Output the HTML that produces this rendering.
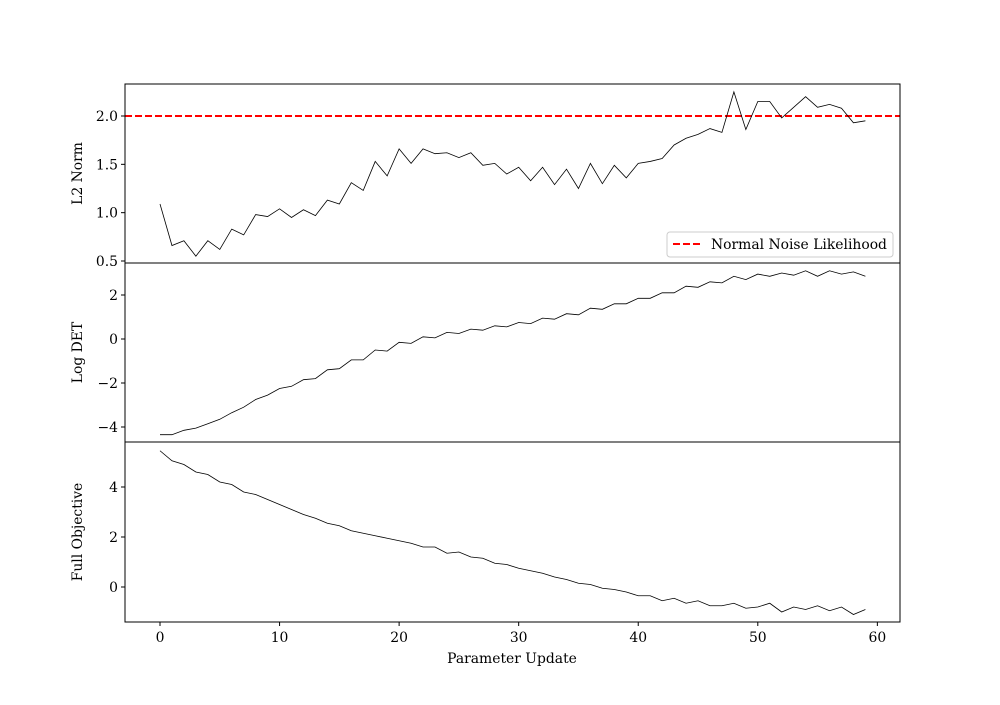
<!DOCTYPE html>
<html><head><meta charset="utf-8"><style>
body{margin:0;background:#fff}
svg text{font-family:"DejaVu Serif","Liberation Serif",serif;font-size:13.9px;fill:#000}
</style></head><body>
<svg id="chart" width="1000" height="700" xmlns="http://www.w3.org/2000/svg"></svg>
<script>
const steps = Array.from({length:60},(_,i)=>i);
const l2Norm = [1.09,0.66,0.71,0.55,0.71,0.62,0.83,0.77,0.98,0.96,1.04,0.95,1.03,0.97,1.13,1.09,1.31,1.23,1.53,1.38,1.66,1.51,1.66,1.61,1.62,1.57,1.62,1.49,1.51,1.40,1.47,1.33,1.47,1.29,1.45,1.25,1.51,1.30,1.49,1.36,1.51,1.53,1.56,1.70,1.77,1.81,1.87,1.83,2.25,1.86,2.15,2.15,1.98,2.09,2.20,2.09,2.12,2.08,1.93,1.95];
const logDet = [-4.35,-4.35,-4.15,-4.05,-3.85,-3.65,-3.35,-3.1,-2.75,-2.55,-2.25,-2.15,-1.85,-1.8,-1.4,-1.35,-0.95,-0.95,-0.5,-0.55,-0.15,-0.2,0.1,0.05,0.3,0.25,0.45,0.4,0.6,0.55,0.75,0.7,0.95,0.9,1.15,1.1,1.4,1.35,1.6,1.6,1.85,1.85,2.1,2.1,2.4,2.35,2.6,2.55,2.85,2.7,2.95,2.85,3.0,2.9,3.1,2.85,3.1,2.95,3.05,2.85];
const fullObj = [5.45,5.05,4.9,4.6,4.5,4.2,4.1,3.8,3.7,3.5,3.3,3.1,2.9,2.75,2.55,2.45,2.25,2.15,2.05,1.95,1.85,1.75,1.6,1.6,1.35,1.4,1.2,1.15,0.95,0.9,0.75,0.65,0.55,0.4,0.3,0.15,0.1,-0.05,-0.1,-0.2,-0.35,-0.35,-0.55,-0.45,-0.65,-0.55,-0.75,-0.75,-0.65,-0.85,-0.8,-0.65,-1.0,-0.8,-0.9,-0.75,-0.95,-0.8,-1.1,-0.9];
const xTicks = [0,10,20,30,40,50,60];
const l2Ticks = [0.5,1.0,1.5,2.0];
const detTicks = [-4,-2,0,2];
const objTicks = [0,2,4];
const noiseLevel = 2.0;

const svg=document.getElementById('chart');
const NS='http://www.w3.org/2000/svg';
function mk(tag,attrs,parent){const e=document.createElementNS(NS,tag);for(const k in attrs)e.setAttribute(k,attrs[k]);(parent||svg).appendChild(e);return e;}
const L=125,R=900;
const xs=v=>160+(v-0)*(877-160)/59.97;
const panels=[
 {name:'l2-norm',top:84,bot:263,y0:2.0,p0:116,y1:0.5,p1:261,data:l2Norm,ticks:l2Ticks,label:'L2 Norm',fmt:v=>v.toFixed(1)},
 {name:'log-det',top:263,bot:442,y0:2,p0:295,y1:-4,p1:427,data:logDet,ticks:detTicks,label:'Log DET',fmt:v=>v<0?'\u2212'+Math.abs(v):String(v)},
 {name:'full-objective',top:442,bot:622,y0:4,p0:487,y1:0,p1:587,data:fullObj,ticks:objTicks,label:'Full Objective',fmt:v=>String(v)}
];
panels.forEach((p,pi)=>{
  const ys=v=>p.p0+(v-p.y0)*(p.p1-p.p0)/(p.y1-p.y0);
  const g=mk('g',{});
  
  
  if(pi===0){
    const ln=mk('line',{x1:L,x2:R,y1:ys(noiseLevel),y2:ys(noiseLevel),stroke:'#f00','stroke-width':2,'stroke-dasharray':'7,3'},g);
    
    
  }
  const d=p.data.map((v,i)=>(i?'L':'M')+xs(steps[i]).toFixed(2)+','+ys(v).toFixed(2)).join('');
  const path=mk('path',{d:d,fill:'none',stroke:'#000','stroke-width':0.8},g);
  
  
  mk('rect',{x:L,y:p.top,width:R-L,height:p.bot-p.top,fill:'none',stroke:'#000','stroke-width':1},g);
  p.ticks.forEach(t=>{
    const y=ys(t);
    mk('line',{x1:L-4,x2:L,y1:y,y2:y,stroke:'#000'},g);
    const tx=mk('text',{x:L-7,y:y+5,'text-anchor':'end'},g);
    tx.textContent=p.fmt(t);
    
    
  });
  const yl=mk('text',{x:0,y:0,'text-anchor':'middle',transform:`translate(82,${(p.top+p.bot)/2}) rotate(-90)`},g);
  yl.textContent=p.label;
  
  
});
xTicks.forEach(t=>{
  const x=xs(t);
  mk('line',{x1:x,x2:x,y1:622,y2:626,stroke:'#000'});
  const tx=mk('text',{x:x,y:642,'text-anchor':'middle'});
  tx.textContent=t;
  
  
});
const xl=mk('text',{x:512,y:663,'text-anchor':'middle'});
xl.textContent='Parameter Update';


const lg=mk('g',{});


mk('rect',{x:667,y:232,width:226,height:25,rx:3,fill:'#fff',stroke:'#ccc'},lg);
mk('line',{x1:673,x2:701,y1:244,y2:244,stroke:'#f00','stroke-width':2,'stroke-dasharray':'7,3'},lg);
const lt=mk('text',{x:711,y:249},lg);
lt.textContent='Normal Noise Likelihood';


</script>
</body></html>
